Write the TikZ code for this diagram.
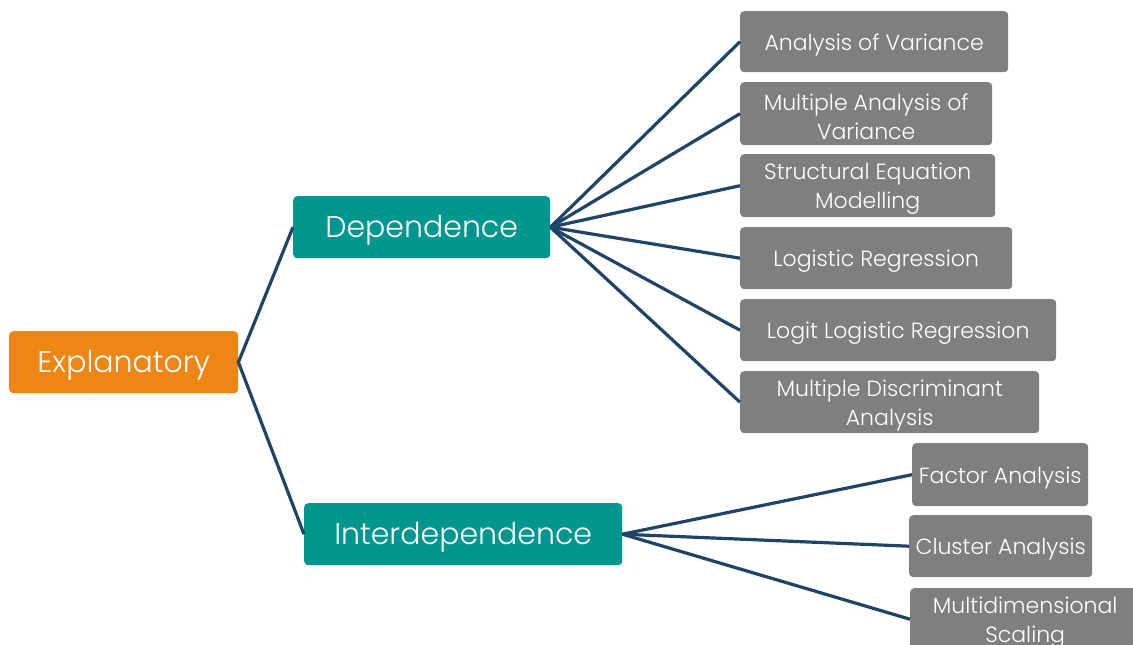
\documentclass[tikz,border=0pt]{standalone}
\usepackage{fontspec}
\setmainfont{Poppins}[UprightFont=* Light]
\definecolor{rootorange}{HTML}{EE8615}
\definecolor{branchteal}{HTML}{009690}
\definecolor{leafgray}{HTML}{7F7F7F}
\definecolor{linkblue}{HTML}{1F4468}
\tikzset{
  box/.style={rounded corners=4pt, inner sep=0pt},
  rootbox/.style={box, fill=rootorange},
  branchbox/.style={box, fill=branchteal},
  leafbox/.style={box, fill=leafgray},
  bigtext/.style={text=white, inner sep=0pt, align=center, font=\fontsize{30}{34}\selectfont},
  leaftext/.style={text=white, inner sep=0pt, align=center, font=\fontsize{22}{29}\selectfont},
  link/.style={draw=linkblue, line width=3.2pt},
}
% a filled box between two pixel corners, with its label set a little low
\newcommand{\boxat}[8]{%
  \node[#1, minimum width=#6-#4, minimum height=#7-#5, anchor=north west] (#3) at (#4,#5) {};
  \node[#2] (#3-text) at ([yshift=-3pt]#3.center) {#8};}
\begin{document}
\begin{tikzpicture}[x=1pt,y=-1pt]
\useasboundingbox (0,0) rectangle (1133,645);
\clip (0,0) rectangle (1133,645);
\boxat{rootbox}{bigtext}{expl}{9}{331}{238}{393}{Explanatory}
\boxat{branchbox}{bigtext}{dep}{293}{196}{550}{258}{Dependence}
\boxat{branchbox}{bigtext}{inter}{304}{503}{622}{565}{Interdependence}
\boxat{leafbox}{leaftext}{anova}{740}{11}{1008}{72}{Analysis of Variance}
\boxat{leafbox}{leaftext}{manova}{740}{82}{992}{145}{Multiple Analysis of\\Variance}
\boxat{leafbox}{leaftext}{sem}{740}{154}{995}{217}{Structural Equation\\Modelling}
\boxat{leafbox}{leaftext}{logreg}{740}{227}{1012}{289}{Logistic Regression}
\boxat{leafbox}{leaftext}{logit}{740}{299}{1056}{361}{Logit Logistic Regression}
\boxat{leafbox}{leaftext}{mda}{740}{371}{1039}{433}{Multiple Discriminant\\Analysis}
\boxat{leafbox}{leaftext}{factor}{912}{443}{1088}{506}{Factor Analysis}
\boxat{leafbox}{leaftext}{cluster}{909}{515}{1092}{577}{Cluster Analysis}
\boxat{leafbox}{leaftext}{mds}{910}{588}{1140}{650}{Multidimensional\\Scaling}
\draw[link] (dep.west) -- (expl.east) -- (inter.west);
\foreach \leaf in {anova,manova,sem,logreg,logit,mda}
  \draw[link] (dep.east) -- (\leaf.west);
\foreach \leaf in {factor,cluster,mds}
  \draw[link] (inter.east) -- (\leaf.west);
\end{tikzpicture}
\end{document}
